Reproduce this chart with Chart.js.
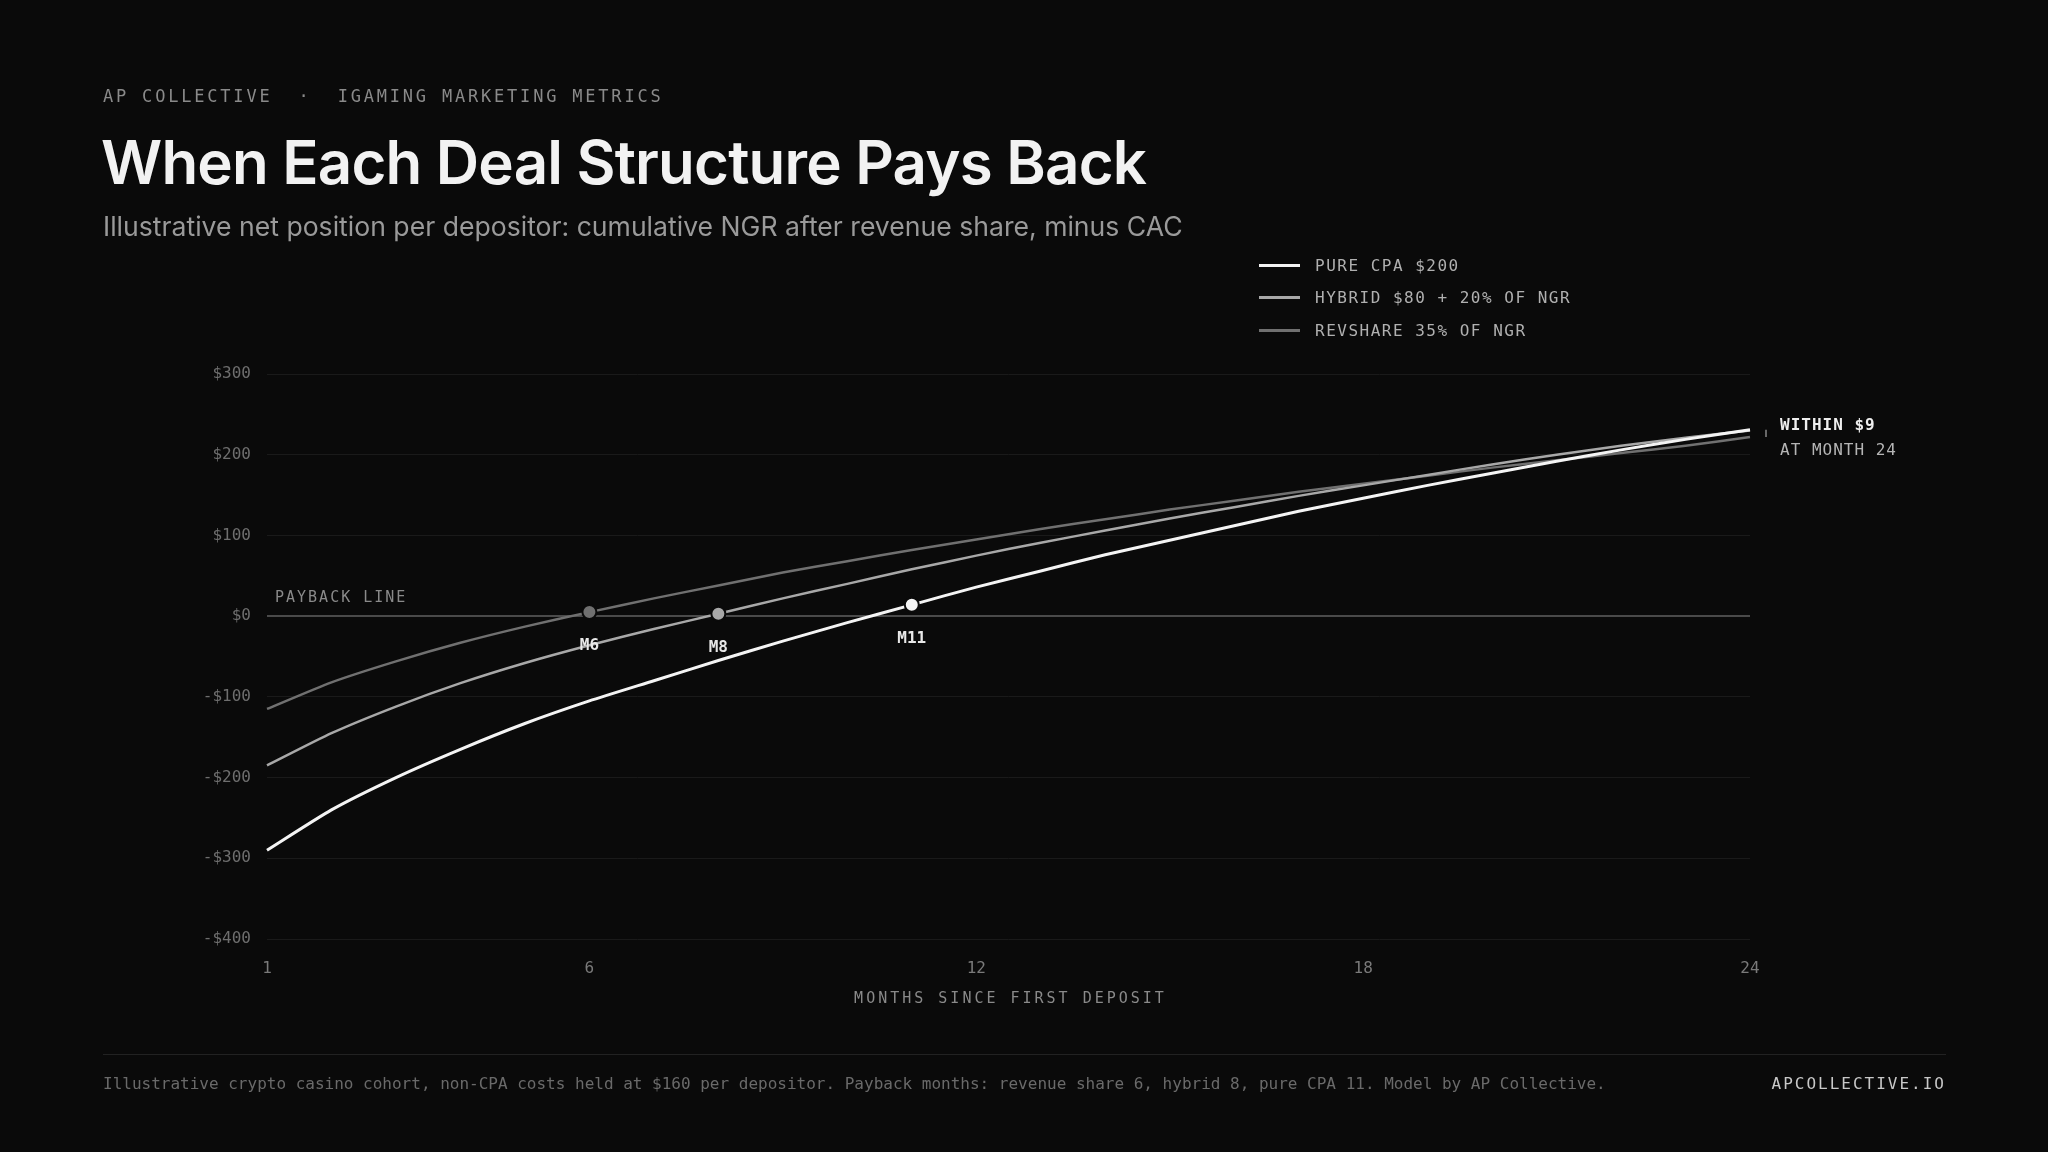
<!DOCTYPE html>
<html><head><meta charset="utf-8">
<script src="https://cdn.jsdelivr.net/npm/chart.js@4.4.1/dist/chart.umd.min.js"></script>
<style>
html,body{margin:0;background:#0a0a0a;width:2048px;height:1152px;overflow:hidden;font-family:Inter,sans-serif}
#wrap{position:absolute;left:0;top:0;width:2048px;height:1152px}
.mono{font-family:"DejaVu Sans Mono",monospace}
.eyebrow{position:absolute;left:103px;top:86px;color:#8a8a8a;font-size:17px;letter-spacing:2.8px}
h1{position:absolute;left:101px;top:126px;margin:0;color:#f2f2f2;font-size:60px;font-weight:600;letter-spacing:-0.8px}
.sub{position:absolute;left:103px;top:210px;color:#9a9a9a;font-size:26.6px}
.legend{position:absolute;left:1259px;top:249px;color:#b0b0b0;font-size:16px;letter-spacing:1.5px}
.legend div{height:32.5px;display:flex;align-items:center}
.legend span{display:inline-block;width:41px;height:3px;margin-right:15px}
.foot{position:absolute;top:1074px;color:#6a6a6a;font-size:16px}
.rule{position:absolute;left:103px;width:1843px;top:1054px;height:1px;background:#222}
</style></head><body>
<div id="wrap"><canvas id="c" width="2048" height="1152"></canvas></div>
<div class="eyebrow mono">AP COLLECTIVE &nbsp;·&nbsp; IGAMING MARKETING METRICS</div>
<h1>When Each Deal Structure Pays Back</h1>
<div class="sub">Illustrative net position per depositor: cumulative NGR after revenue share, minus CAC</div>
<div class="legend mono">
<div><span style="background:#f2f2f2"></span>PURE CPA $200</div>
<div><span style="background:#a8a8a8"></span>HYBRID $80 + 20% OF NGR</div>
<div><span style="background:#707070"></span>REVSHARE 35% OF NGR</div>
</div>
<div class="rule"></div>
<div class="foot mono" style="left:103px">Illustrative crypto casino cohort, non-CPA costs held at $160 per depositor. Payback months: revenue share 6, hybrid 8, pure CPA 11. Model by AP Collective.</div>
<div class="foot mono" style="right:102px;color:#c8c8c8;font-size:16px;letter-spacing:2px">APCOLLECTIVE.IO</div>
<script>
const months = Array.from({length: 24}, (_, i) => i + 1);
const xTickMonths = [1, 6, 12, 18, 24];
const yTicks = [300, 200, 100, 0, -100, -200, -300, -400];
const pureCpa = [-290, -240, -200, -165, -133, -105, -80, -55, -31, -8, 14, 36, 56, 76, 94, 112, 130, 146, 162, 177, 192, 206, 219, 231];
const hybrid = [-185, -145, -112, -83, -58, -36, -16, 3, 22, 40, 58, 75, 91, 106, 121, 135, 149, 162, 175, 188, 200, 211, 221, 230];
const revshare = [-115, -82, -56, -33, -13, 5, 22, 38, 54, 68, 82, 95, 108, 120, 132, 143, 154, 164, 174, 184, 193, 202, 211, 222];
const paybackMonths = [11, 8, 6];

const mono = '"DejaVu Sans Mono", monospace';

function markerRadius(month) {
    return months.map(m => m === month ? 7 : 0);
}

const overlay = {
    id: 'overlay',
    afterDatasetsDraw(chart) {
        const ctx = chart.ctx;
        const x = chart.scales.x, y = chart.scales.y;
        ctx.save();
        ctx.font = '15px ' + mono;
        ctx.letterSpacing = '2px';
        ctx.fillStyle = '#8a8a8a';
        ctx.fillText('PAYBACK LINE', 275, y.getPixelForValue(0) - 14);
        // payback labels
        ctx.letterSpacing = '0px';
        ctx.font = 'bold 16px ' + mono;
        ctx.textAlign = 'center';
        chart.data.datasets.forEach((ds, i) => {
            const m = paybackMonths[i];
            const px = x.getPixelForValue(m - 1);
            const py = y.getPixelForValue(ds.data[m - 1]);
            ctx.fillStyle = '#e8e8e8';
            ctx.fillText('M' + m, px, py + 38);
        });
        // x axis title
        ctx.font = '15px ' + mono;
        ctx.letterSpacing = '3px';
        ctx.fillStyle = '#8a8a8a';
        ctx.fillText('MONTHS SINCE FIRST DEPOSIT', (x.left + x.right) / 2 + 2, 1003);
        // end annotation
        ctx.letterSpacing = '1px';
        const ex = x.right + 16;
        ctx.strokeStyle = '#888';
        ctx.lineWidth = 1.5;
        ctx.beginPath();
        ctx.moveTo(ex, y.getPixelForValue(231));
        ctx.lineTo(ex, y.getPixelForValue(222));
        ctx.stroke();
        ctx.textAlign = 'left';
        ctx.font = 'bold 16px ' + mono;
        ctx.fillStyle = '#eeeeee';
        ctx.fillText('WITHIN $9', ex + 14, 430);
        ctx.font = '16px ' + mono;
        ctx.fillStyle = '#b5b5b5';
        ctx.fillText('AT MONTH 24', ex + 14, 455);
        ctx.restore();
    }
};

function line(label, data, color, width, payback) {
    return {
        label: label,
        data: data,
        borderColor: color,
        backgroundColor: color,
        borderWidth: width,
        pointRadius: markerRadius(payback),
        pointBackgroundColor: color,
        pointBorderColor: '#0a0a0a',
        pointBorderWidth: 2,
        tension: 0.2
    };
}

new Chart(document.getElementById('c').getContext('2d'), {
    type: 'line',
    data: {
        labels: months,
        datasets: [
            line('Pure CPA $200', pureCpa, '#f4f4f4', 3, 11),
            line('Hybrid $80 + 20% of NGR', hybrid, '#a8a8a8', 2.5, 8),
            line('RevShare 35% of NGR', revshare, '#707070', 2.5, 6)
        ]
    },
    options: {
        responsive: false,
        animation: false,
        layout: { padding: { left: 0, top: 374, right: 298, bottom: 0 } },
        plugins: { legend: { display: false }, tooltip: { enabled: false } },
        scales: {
            x: {
                afterFit(s) { s.height = 1152 - 939; },
                grid: { display: false },
                border: { display: false },
                ticks: {
                    autoSkip: false, maxRotation: 0, padding: 12,
                    color: '#7a7a7a', font: { family: mono, size: 16 },
                    callback: (v, i) => xTickMonths.includes(months[i]) ? months[i] : ''
                }
            },
            y: {
                min: -400, max: 300,
                afterFit(s) { s.width = 267; },
                afterBuildTicks(s) { s.ticks = yTicks.map(v => ({ value: v })); },
                border: { display: false },
                grid: {
                    drawTicks: false,
                    color: c => c.tick && c.tick.value === 0 ? '#4a4a4a' : '#1a1a1a',
                    lineWidth: c => c.tick && c.tick.value === 0 ? 2 : 1
                },
                ticks: {
                    padding: 16, color: '#6e6e6e', font: { family: mono, size: 16 },
                    callback: v => (v < 0 ? '-$' + Math.abs(v) : '$' + v)
                }
            }
        }
    },
    plugins: [overlay]
});
</script>
</body></html>
